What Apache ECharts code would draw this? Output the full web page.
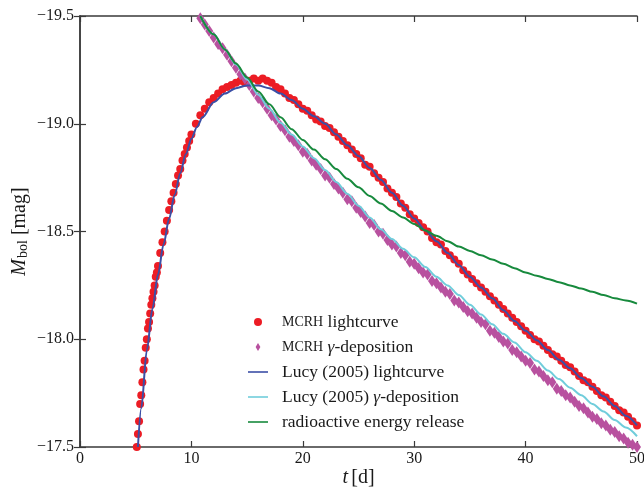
<!DOCTYPE html>
<html>
<head>
<meta charset="utf-8">
<script src="https://cdn.jsdelivr.net/npm/echarts@6/dist/echarts.min.js"></script>
<style>html,body{margin:0;padding:0;background:#fff}#c{width:644px;height:488px}</style>
</head>
<body>
<div id="c"></div>
<script>
// ---- data ----
const xTicks = [0, 10, 20, 30, 40, 50];
const yTicks = [-19.5, -19.0, -18.5, -18.0, -17.5];

const mcrhLcT = [5.1,5.2,5.3,5.4,5.5,5.6,5.7,5.8,5.9,6.0,6.1,6.2,6.3,6.4,6.5,6.6,6.7,6.8,6.9,7.0,
  7.2,7.4,7.6,7.8,8.0,8.2,8.4,8.6,8.8,9.0,9.2,9.4,9.6,9.8,10.0,
  10.4,10.8,11.2,11.6,12.0,12.4,12.8,13.2,13.6,14.0,14.4,14.8,15.2,15.6,16.0,16.4,16.8,17.2,17.6,18.0,
  18.4,18.8,19.2,19.6,20.0,20.4,20.8,21.2,21.6,22.0,22.4,22.8,23.2,23.6,24.0,24.4,24.8,25.2,25.6,26.0,
  26.4,26.8,27.2,27.6,28.0,28.4,28.8,29.2,29.6,30.0,30.4,30.8,31.2,31.6,32.0,32.4,32.8,33.2,33.6,34.0,
  34.4,34.8,35.2,35.6,36.0,36.4,36.8,37.2,37.6,38.0,38.4,38.8,39.2,39.6,40.0,40.4,40.8,41.2,41.6,42.0,
  42.4,42.8,43.2,43.6,44.0,44.4,44.8,45.2,45.6,46.0,46.4,46.8,47.2,47.6,48.0,48.4,48.8,49.2,49.6,50.0];
const mcrhLcMag = [-17.50,-17.56,-17.62,-17.70,-17.74,-17.80,-17.86,-17.90,-17.96,-18.00,-18.05,-18.08,-18.12,-18.16,-18.19,-18.22,-18.25,-18.29,-18.31,-18.34,
  -18.40,-18.45,-18.50,-18.55,-18.60,-18.64,-18.68,-18.72,-18.76,-18.79,-18.83,-18.86,-18.89,-18.92,-18.95,
  -19.00,-19.04,-19.07,-19.10,-19.12,-19.14,-19.16,-19.17,-19.18,-19.19,-19.20,-19.19,-19.20,-19.21,-19.20,-19.21,-19.20,-19.19,-19.17,-19.16,
  -19.14,-19.12,-19.11,-19.09,-19.07,-19.06,-19.04,-19.02,-19.01,-18.99,-18.98,-18.96,-18.94,-18.92,-18.90,-18.88,-18.86,-18.84,-18.81,-18.80,
  -18.77,-18.75,-18.73,-18.70,-18.68,-18.66,-18.63,-18.61,-18.58,-18.56,-18.54,-18.52,-18.50,-18.47,-18.45,-18.44,-18.41,-18.39,-18.37,-18.35,
  -18.32,-18.30,-18.28,-18.26,-18.24,-18.22,-18.20,-18.18,-18.16,-18.14,-18.12,-18.10,-18.08,-18.06,-18.04,-18.02,-18.00,-17.99,-17.97,-17.95,
  -17.93,-17.92,-17.90,-17.88,-17.87,-17.85,-17.83,-17.81,-17.80,-17.78,-17.76,-17.74,-17.73,-17.71,-17.69,-17.67,-17.66,-17.64,-17.62,-17.60];

const mcrhGamT = [10.8,11.2,11.6,12.0,12.4,12.8,13.2,13.6,14.0,14.4,14.8,15.2,15.6,16.0,16.4,16.8,17.2,17.6,18.0,
  18.4,18.8,19.2,19.6,20.0,20.4,20.8,21.2,21.6,22.0,22.4,22.8,23.2,23.6,24.0,24.4,24.8,25.2,25.6,26.0,
  26.4,26.8,27.2,27.6,28.0,28.4,28.8,29.2,29.6,30.0,30.4,30.8,31.2,31.6,32.0,32.4,32.8,33.2,33.6,34.0,
  34.4,34.8,35.2,35.6,36.0,36.4,36.8,37.2,37.6,38.0,38.4,38.8,39.2,39.6,40.0,40.4,40.8,41.2,41.6,42.0,
  42.4,42.8,43.2,43.6,44.0,44.4,44.8,45.2,45.6,46.0,46.4,46.8,47.2,47.6,48.0,48.4,48.8,49.2,49.6,50.0];
const mcrhGamMag = [-19.49,-19.46,-19.43,-19.40,-19.37,-19.35,-19.32,-19.29,-19.26,-19.23,-19.21,-19.18,-19.15,-19.12,-19.10,-19.07,-19.04,-19.02,-18.99,
  -18.97,-18.94,-18.92,-18.90,-18.87,-18.86,-18.83,-18.81,-18.79,-18.76,-18.75,-18.72,-18.70,-18.68,-18.65,-18.64,-18.61,-18.59,-18.57,-18.54,
  -18.53,-18.50,-18.49,-18.46,-18.44,-18.43,-18.40,-18.39,-18.36,-18.35,-18.33,-18.31,-18.30,-18.27,-18.26,-18.24,-18.22,-18.21,-18.18,-18.17,
  -18.15,-18.13,-18.12,-18.10,-18.08,-18.07,-18.04,-18.03,-18.01,-17.99,-17.98,-17.95,-17.94,-17.92,-17.90,-17.89,-17.86,-17.85,-17.83,-17.81,
  -17.80,-17.77,-17.76,-17.74,-17.73,-17.71,-17.69,-17.68,-17.66,-17.64,-17.63,-17.61,-17.60,-17.58,-17.57,-17.55,-17.54,-17.52,-17.51,-17.50];

const lucyLcT = [5.2,5.5,6.0,6.5,7.0,7.5,8.0,8.5,9.0,9.5,10,10.5,11,12,13,14,15,16,17,18,19,20,21,22,23,24,25,26,27,28,29,30,
  31,32,33,34,35,36,37,38,39,40,41,42,43,44,45,46,47,48,49,50];
const lucyLcMag = [-17.50,-17.68,-17.95,-18.14,-18.30,-18.44,-18.56,-18.67,-18.77,-18.86,-18.93,-18.985,-19.03,-19.10,-19.14,-19.165,-19.178,-19.177,-19.165,-19.14,
  -19.11,-19.07,-19.035,-19.00,-18.95,-18.90,-18.85,-18.795,-18.74,-18.68,-18.62,-18.56,
  -18.505,-18.455,-18.40,-18.345,-18.29,-18.24,-18.19,-18.135,-18.085,-18.04,-17.995,-17.95,-17.905,-17.865,-17.82,-17.78,-17.735,-17.69,-17.645,-17.60];

const lucyGamT = [10.8,12,13,14,15,16,17,18,19,20,21,22,23,24,25,26,27,28,29,30,31,32,33,34,35,36,37,38,39,40,41,42,43,44,45,46,47,48,49,50];
const lucyGamMag = [-19.50,-19.415,-19.345,-19.275,-19.205,-19.135,-19.07,-19.005,-18.95,-18.895,-18.84,-18.785,-18.73,-18.675,-18.62,-18.565,-18.51,
  -18.465,-18.42,-18.38,-18.335,-18.29,-18.25,-18.205,-18.16,-18.115,-18.07,-18.025,-17.985,-17.94,-17.90,-17.855,-17.815,-17.775,-17.74,-17.70,-17.665,-17.625,-17.59,-17.55];

const radT = [10.8,12,13,14,15,16,17,18,19,20,21,22,23,24,25,26,27,28,29,30,31,32,33,34,35,36,37,38,39,40,41,42,43,44,45,46,47,48,49,50];
const radMag = [-19.50,-19.415,-19.345,-19.28,-19.215,-19.15,-19.09,-19.03,-18.975,-18.925,-18.88,-18.835,-18.79,-18.745,-18.705,-18.665,-18.63,
  -18.595,-18.565,-18.535,-18.505,-18.48,-18.455,-18.43,-18.41,-18.39,-18.37,-18.35,-18.33,-18.31,-18.295,-18.28,-18.265,-18.25,-18.235,-18.22,-18.205,-18.19,-18.18,-18.165];

const seriesNames = ['MCRH lightcurve', 'MCRH \u03b3-deposition', 'Lucy (2005) lightcurve', 'Lucy (2005) \u03b3-deposition', 'radioactive energy release'];

// ---- build ----
const zip = (a, b) => a.map((v, i) => [v, b[i]]);
const SERIF = '"Liberation Serif", "DejaVu Serif", serif';
const TXT = '#1a1a1a';
const AX = '#3a3a3a';
const fmtMag = v => (v < 0 ? '\u2212' : '') + Math.abs(v).toFixed(1);
const LINE_ICON = 'path://M0,0 L25,0 L25,2 L0,2 Z';

const chart = echarts.init(document.getElementById('c'), null, {renderer: 'canvas'});

const axisCommon = {
  axisLine: {show: true, lineStyle: {color: AX, width: 1.5}},
  axisTick: {show: true, inside: true, length: 6, lineStyle: {color: AX, width: 1.2}},
  splitLine: {show: false}
};

const legendRich = {
  n: {fontFamily: SERIF, fontSize: 17.5, color: TXT, lineHeight: 18},
  np: {fontFamily: SERIF, fontSize: 17.5, color: TXT, lineHeight: 18, padding: [0, 0, 0, 9]},
  scp: {fontFamily: SERIF, fontSize: 14, color: TXT, lineHeight: 18, padding: [0, 0, 0, 9]},
  g: {fontFamily: SERIF, fontSize: 17.5, fontStyle: 'italic', color: TXT, lineHeight: 18}
};
function legendFmt(name) {
  if (name === seriesNames[0]) return '{scp|MCRH}{n| lightcurve}';
  if (name === seriesNames[1]) return '{scp|MCRH}{n| }{g|\u03b3}{n|-deposition}';
  if (name === seriesNames[2]) return '{np|Lucy (2005) lightcurve}';
  if (name === seriesNames[3]) return '{np|Lucy (2005) }{g|\u03b3}{n|-deposition}';
  return '{np|' + name + '}';
}

const option = {
  backgroundColor: '#fff',
  animation: false,
  grid: {left: 80, top: 16, right: 7, bottom: 41, containLabel: false, outerBoundsMode: 'none'},
  xAxis: [
    Object.assign({}, axisCommon, {
      type: 'value', position: 'bottom', min: xTicks[0], max: xTicks[xTicks.length - 1], interval: 10,
      axisLabel: {show: true, margin: 4, fontFamily: SERIF, fontSize: 16, color: TXT},
      name: '{i|t} {n|[d]}', nameLocation: 'middle', nameGap: 21, nameMoveOverlap: false,
      nameTextStyle: {rich: {
        i: {fontFamily: SERIF, fontSize: 20, fontStyle: 'italic', color: TXT},
        n: {fontFamily: SERIF, fontSize: 20, color: TXT}
      }}
    }),
    Object.assign({}, axisCommon, {
      type: 'value', position: 'top', min: xTicks[0], max: xTicks[xTicks.length - 1], interval: 10,
      axisLabel: {show: false}
    })
  ],
  yAxis: [
    Object.assign({}, axisCommon, {
      type: 'value', position: 'left', inverse: true, min: yTicks[0], max: yTicks[yTicks.length - 1], interval: 0.5,
      axisLabel: {show: true, margin: 6, fontFamily: SERIF, fontSize: 16, color: TXT, formatter: fmtMag},
      name: '{i|M}{s|bol}{n| [mag]}', nameLocation: 'middle', nameGap: 50, nameRotate: 90, nameMoveOverlap: false,
      nameTextStyle: {rich: {
        i: {fontFamily: SERIF, fontSize: 20, fontStyle: 'italic', color: TXT, lineHeight: 20, verticalAlign: 'top'},
        n: {fontFamily: SERIF, fontSize: 20, color: TXT, lineHeight: 20, verticalAlign: 'top'},
        s: {fontFamily: SERIF, fontSize: 14, color: TXT, lineHeight: 14, verticalAlign: 'bottom', padding: [10, 0, 0, 1]}
      }}
    }),
    Object.assign({}, axisCommon, {
      type: 'value', position: 'right', inverse: true, min: yTicks[0], max: yTicks[yTicks.length - 1], interval: 0.5,
      axisLabel: {show: false}
    })
  ],
  legend: {
    orient: 'vertical', left: 248, top: 313, padding: 0,
    itemWidth: 20, itemHeight: 8, itemGap: 7,
    data: [
      {name: seriesNames[0], icon: 'circle'},
      {name: seriesNames[1], icon: 'path://M3,0 L6,5 L3,10 L0,5 Z'},
      {name: seriesNames[2], icon: LINE_ICON},
      {name: seriesNames[3], icon: LINE_ICON},
      {name: seriesNames[4], icon: LINE_ICON}
    ],
    formatter: legendFmt,
    textStyle: {rich: legendRich}
  },
  series: [
    {name: seriesNames[0], type: 'scatter', data: zip(mcrhLcT, mcrhLcMag), symbol: 'circle', symbolSize: 8,
     itemStyle: {color: '#ec1c24', opacity: 1}, z: 2},
    {name: seriesNames[1], type: 'scatter', data: zip(mcrhGamT, mcrhGamMag), symbol: 'diamond', symbolSize: [8, 12],
     itemStyle: {color: '#b8519f', opacity: 1}, z: 3},
    {name: seriesNames[2], type: 'line', data: zip(lucyLcT, lucyLcMag), symbol: 'none', smooth: 0.3, smoothMonotone: 'x',
     lineStyle: {color: '#3b4fa6', width: 2}, itemStyle: {color: '#3b4fa6'}, z: 4},
    {name: seriesNames[3], type: 'line', data: zip(lucyGamT, lucyGamMag), symbol: 'none', smooth: 0.3, smoothMonotone: 'x',
     lineStyle: {color: '#70cddb', width: 2}, itemStyle: {color: '#70cddb'}, z: 5},
    {name: seriesNames[4], type: 'line', data: zip(radT, radMag), symbol: 'none', smooth: 0.3, smoothMonotone: 'x',
     lineStyle: {color: '#178a3d', width: 2}, itemStyle: {color: '#178a3d'}, z: 6}
  ]
};
chart.setOption(option);
</script>
</body>
</html>
